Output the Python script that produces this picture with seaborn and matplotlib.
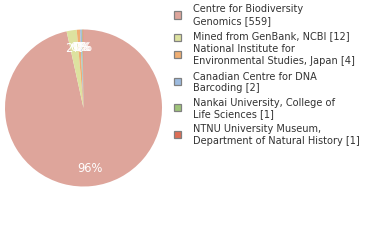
import matplotlib
matplotlib.use("Agg")
import matplotlib.pyplot as plt
import seaborn as sns
from matplotlib.patches import Rectangle

categories = [
    "Centre for Biodiversity\nGenomics [559]",
    "Mined from GenBank, NCBI [12]",
    "National Institute for\nEnvironmental Studies, Japan [4]",
    "Canadian Centre for DNA\nBarcoding [2]",
    "Nankai University, College of\nLife Sciences [1]",
    "NTNU University Museum,\nDepartment of Natural History [1]",
]
counts = [559, 12, 4, 2, 1, 1]
colors = ["#dea59b", "#dde29f", "#f0ae72", "#9dbbdf", "#9fc47a", "#de6d55"]

sns.set_theme(style="white")
plt.rcParams["font.family"] = ["DejaVu Sans"]

W, H = 380, 240
fig = plt.figure(figsize=(W / 100, H / 100), dpi=100)
cx, cy, r = 83.5, 108, 78.5
ax = fig.add_axes([(cx - r) / W, 1 - (cy + r) / H, 2 * r / W, 2 * r / H])

def fmt(p):
    return "%d%%" % int(p)

wedges, texts, autotexts = ax.pie(
    counts, colors=colors, startangle=90, counterclock=False,
    autopct=fmt, pctdistance=0.77,
    textprops=dict(color="white", fontsize=8.3),
    wedgeprops=dict(linewidth=0),
)
ax.set_aspect("equal")
ax.set_xlim(-1, 1)
ax.set_ylim(-1, 1)
ax.axis("off")

# legend
baselines = [14, 41, 54, 81, 107, 134]
box_top = [11.5, 34, 51, 78, 104, 131]
for lab, col, b, bt in zip(categories, colors, baselines, box_top):
    fig.patches.append(Rectangle((173.5 / W, 1 - (bt + 7) / H), 7 / W, 7 / H,
                                 transform=fig.transFigure, facecolor=col,
                                 edgecolor="#808080", linewidth=0.9))
    fig.text(193 / W, 1 - (b - 9.5) / H, lab, fontsize=7.8, color="#333333",
             fontstretch="condensed", va="top", ha="left", linespacing=1.2)

fig.savefig("out.png", dpi=100)
